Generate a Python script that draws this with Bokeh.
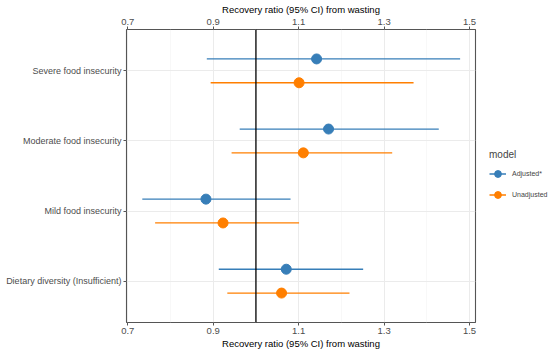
from bokeh.plotting import figure
from bokeh.models import (ColumnDataSource, LinearAxis, FixedTicker, Span, Legend, LegendItem, Range1d)
from bokeh.embed import file_html
from bokeh.resources import INLINE

categories = ["Dietary diversity (Insufficient)", "Mild food insecurity",
              "Moderate food insecurity", "Severe food insecurity"]
adj_est = [1.071, 0.883, 1.170, 1.142]
adj_lo = [0.913, 0.734, 0.962, 0.885]
adj_hi = [1.251, 1.081, 1.428, 1.478]
unadj_est = [1.060, 0.923, 1.111, 1.101]
unadj_lo = [0.933, 0.764, 0.943, 0.894]
unadj_hi = [1.219, 1.101, 1.319, 1.369]
x_ticks = [0.7, 0.9, 1.1, 1.3, 1.5]
x_minor = [0.8, 1.0, 1.2, 1.4]
series_names = ["Adjusted*", "Unadjusted"]
colors = ["#377EB8", "#FF7F00"]
dodge = 0.17
FONT = "Liberation Sans"

p = figure(frame_width=349, frame_height=293, output_backend="svg", toolbar_location=None,
           x_range=Range1d(0.697, 1.514), y_range=Range1d(0.41, 4.59),
           min_border_left=126, min_border_top=29, min_border_bottom=29, min_border_right=75)
p.background_fill_color = "white"
p.outline_line_color = "#555555"
p.outline_line_width = 1.1

ypos = [i + 1 for i in range(len(categories))]
items = []
for k, (est, lo, hi) in enumerate([(adj_est, adj_lo, adj_hi), (unadj_est, unadj_lo, unadj_hi)]):
    off = dodge if k == 0 else -dodge
    src = ColumnDataSource(dict(y=[v + off for v in ypos], est=est, lo=lo, hi=hi))
    seg = p.segment(x0="lo", x1="hi", y0="y", y1="y", source=src, line_color=colors[k], line_width=1.3)
    sc = p.scatter(x="est", y="y", source=src, size=10, fill_color=colors[k], line_color=colors[k])
    items.append(LegendItem(label=series_names[k], renderers=[seg, sc]))

p.add_layout(Span(location=1.0, dimension="height", line_color="black", line_width=1.3))

ticker = FixedTicker(ticks=x_ticks, minor_ticks=x_minor)
bottom = p.below[0]
top = LinearAxis(ticker=ticker)
p.add_layout(top, "above")
for ax in [bottom, top]:
    ax.ticker = ticker
    ax.axis_label = "Recovery ratio (95% CI) from wasting"
    ax.axis_label_text_font = FONT
    ax.axis_label_text_font_size = "9.5px"
    ax.axis_label_text_font_style = "normal"
    ax.axis_label_text_color = "black"
    ax.axis_label_standoff = 1
    ax.major_label_text_font = FONT
    ax.major_label_text_font_size = "9.5px"
    ax.major_label_text_color = "#4d4d4d"
    ax.major_label_standoff = 1
    ax.axis_line_color = None
    ax.major_tick_line_color = "#555555"
    ax.major_tick_out = 3
    ax.major_tick_in = 0
    ax.minor_tick_line_color = None

yax = p.left[0]
yax.ticker = FixedTicker(ticks=ypos)
yax.major_label_overrides = {v: c for v, c in zip(ypos, categories)}
yax.major_label_text_font = FONT
yax.major_label_text_font_size = "9px"
yax.major_label_text_color = "#4d4d4d"
yax.major_label_standoff = 2
yax.axis_line_color = None
yax.major_tick_line_color = "#555555"
yax.major_tick_out = 3
yax.major_tick_in = 0
yax.minor_tick_line_color = None

p.xgrid.grid_line_color = "#EBEBEB"
p.xgrid.grid_line_width = 1
p.xgrid.minor_grid_line_color = "#F3F3F3"
p.xgrid.minor_grid_line_width = 0.6
p.ygrid.grid_line_color = "#EBEBEB"
p.ygrid.grid_line_width = 1

legend = Legend(items=items, title="model", location="center_left")
legend.title_text_font = FONT
legend.title_text_font_size = "10px"
legend.title_text_font_style = "normal"
legend.title_standoff = 5
legend.label_text_font = FONT
legend.label_text_font_size = "7px"
legend.border_line_color = None
legend.background_fill_alpha = 0
legend.margin = 14
legend.padding = 5
legend.glyph_width = 17
legend.glyph_height = 18
legend.spacing = 3
legend.label_standoff = 6
p.add_layout(legend, "right")

open("out.html", "w").write(file_html(p, INLINE))
